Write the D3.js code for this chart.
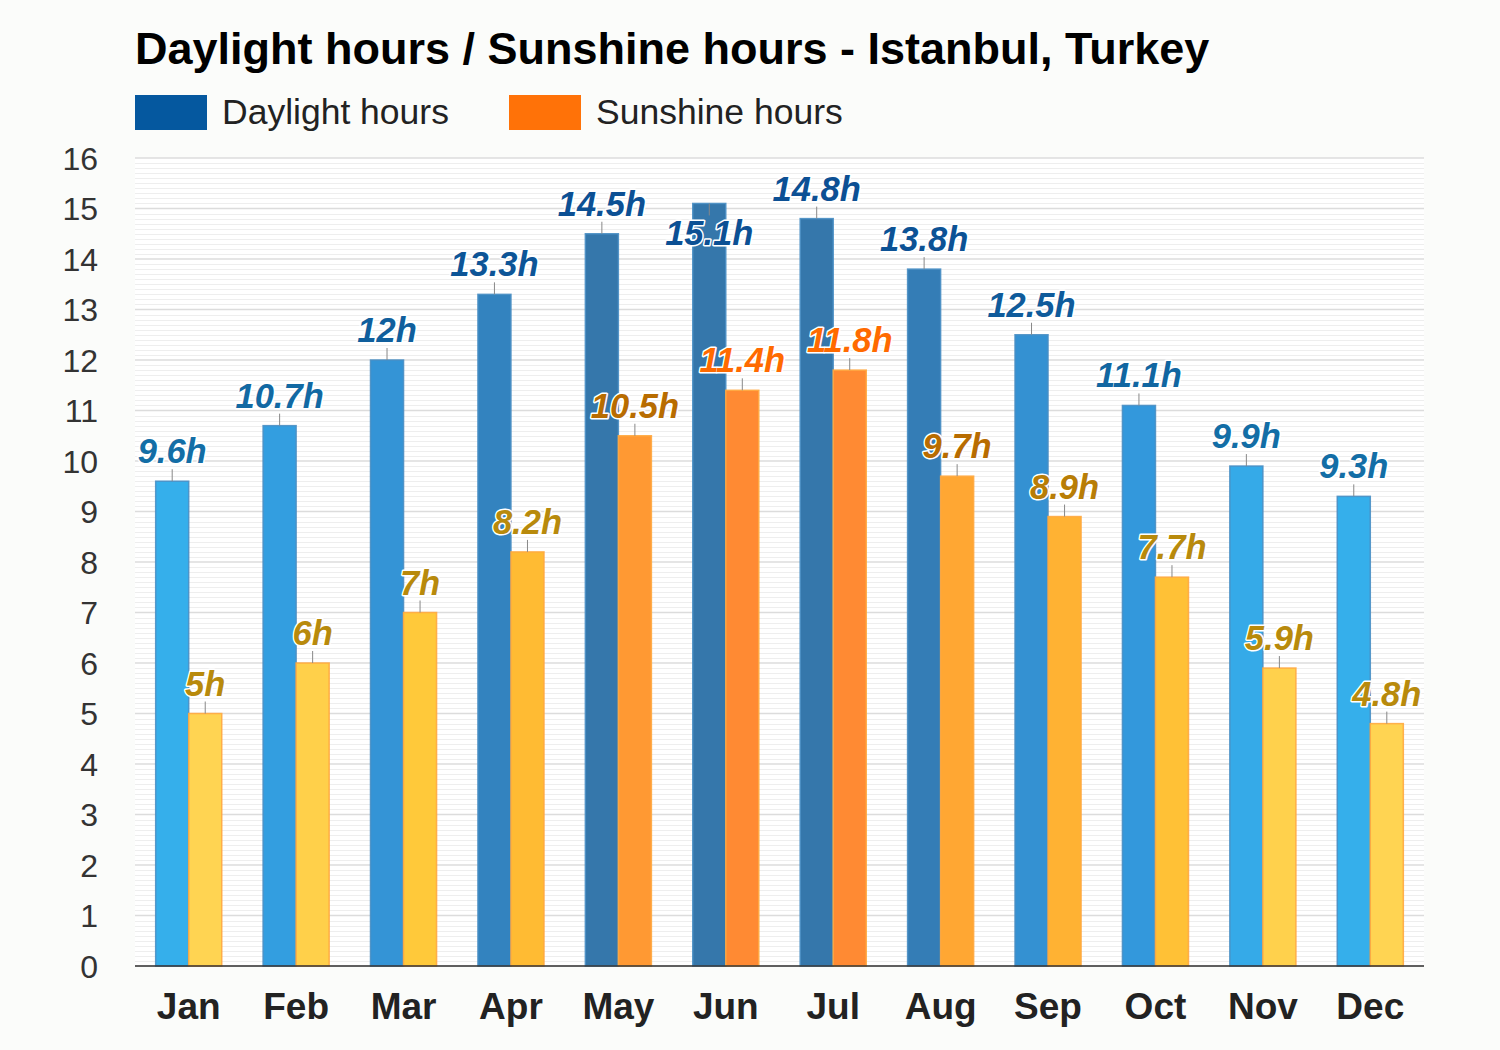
<!DOCTYPE html>
<html><head><meta charset="utf-8">
<script src="https://cdn.jsdelivr.net/npm/d3@7"></script>
<style>body{margin:0;background:#fbfcfa;}svg{display:block;font-family:"Liberation Sans",Arial,sans-serif;}</style>
</head><body><svg id="c" width="1500" height="1050"></svg>
<script>
const months = ["Jan","Feb","Mar","Apr","May","Jun","Jul","Aug","Sep","Oct","Nov","Dec"];
const daylight = [9.6,10.7,12,13.3,14.5,15.1,14.8,13.8,12.5,11.1,9.9,9.3];
const sunshine = [5,6,7,8.2,10.5,11.4,11.8,9.7,8.9,7.7,5.9,4.8];
const seriesNames = ["Daylight hours","Sunshine hours"];
const yTicks = d3.range(0,17,1);

const svg = d3.select("#c");
const L=135,R=1424,T=158,B=966;
const x0 = d3.scaleBand().domain(months).range([L,R]).paddingInner(0.385).paddingOuter(0.1925);
const x1 = d3.scaleBand().domain(seriesNames).range([0,x0.bandwidth()]);
const y = d3.scaleLinear().domain([0,16]).range([B,T]);

const dayFill = d3.scaleLinear().domain([9.6,11,12.5,13.5,14.5]).range(["#35afeb","#3399dd","#3491d2","#337fba","#3577ab"]).clamp(true);
const sunFill = d3.scaleLinear().domain([5.5,7,8.2,9.7,11.4]).range(["#ffd452","#ffc93a","#ffbb33","#ffa733","#ff8a33"]).clamp(true);
const dayLab = d3.scaleLinear().domain([10,14]).range(["#136ea6","#0c5094"]).clamp(true);
function sunLab(v){ return v>=11 ? "#ff6a00" : (v>=9.5 ? "#b86c00" : (v>=8.5 ? "#b87d06" : "#b88a0c")); }

// title
svg.append("text").attr("x",135).attr("y",64).attr("font-size",45).attr("font-weight","bold").attr("fill","#000")
  .text("Daylight hours / Sunshine hours - Istanbul, Turkey");
// legend
const leg=[{n:seriesNames[0],c:"#05589f",x:135},{n:seriesNames[1],c:"#ff7208",x:509}];
leg.forEach(d=>{
  svg.append("rect").attr("x",d.x).attr("y",95).attr("width",72).attr("height",35).attr("fill",d.c);
  svg.append("text").attr("x",d.x+87).attr("y",124).attr("font-size",35.5).attr("fill","#222").text(d.n);
});

// plot bg
svg.append("rect").attr("x",L).attr("y",T).attr("width",R-L).attr("height",B-T).attr("fill","#ffffff");
// minor grid
const minor = d3.range(0,16.001,0.1).filter(v=>Math.abs(v-Math.round(v))>0.01);
svg.append("g").selectAll("line").data(minor).join("line")
  .attr("x1",L).attr("x2",R).attr("y1",d=>Math.round(y(d))+0.5).attr("y2",d=>Math.round(y(d))+0.5)
  .attr("stroke","#eeeeee").attr("stroke-width",1);
svg.append("g").selectAll("line").data(yTicks).join("line")
  .attr("x1",L).attr("x2",R).attr("y1",d=>y(d)).attr("y2",d=>y(d))
  .attr("stroke","#dcdcdc").attr("stroke-width",1.5);

// y axis labels
svg.append("g").selectAll("text").data(yTicks).join("text")
  .attr("x",98).attr("y",d=>y(d)).attr("dy","0.36em").attr("text-anchor","end")
  .attr("font-size",32).attr("fill","#333").text(d=>d);

// bars
const data = months.map((m,i)=>({m, vals:[{s:seriesNames[0],v:daylight[i]},{s:seriesNames[1],v:sunshine[i]}]}));
const g = svg.append("g").selectAll("g").data(data).join("g").attr("transform",d=>`translate(${x0(d.m)},0)`);
g.selectAll("rect").data(d=>d.vals).join("rect")
  .attr("x",d=>x1(d.s)).attr("width",x1.bandwidth()).attr("y",d=>y(d.v)).attr("height",d=>B-y(d.v))
  .attr("fill",d=>d.s===seriesNames[0]?dayFill(d.v):sunFill(d.v))
  .attr("stroke",d=>d.s===seriesNames[0]?"#4a8fc4":"#ffa940").attr("stroke-width",1.5).attr("stroke-opacity",0.9);

// axis line
svg.append("line").attr("x1",L).attr("x2",R).attr("y1",B).attr("y2",B).attr("stroke","#333").attr("stroke-width",1.5);

// labels
const lab = svg.append("g");
data.forEach(d=>{
  d.vals.forEach(o=>{
    const cx = x0(d.m)+x1(o.s)+x1.bandwidth()/2;
    const top = y(o.v);
    const inside = top - 48 < T;
    let base, l1, l2;
    if(inside){ l1=top; l2=top+12; base=top+42; }
    else { l1=top; l2=top-12; base=top-18; }
    lab.append("line").attr("x1",cx).attr("x2",cx).attr("y1",l1).attr("y2",l2).attr("stroke","#888").attr("stroke-width",1);
    const t = (Math.round(o.v*10)/10)+"h";
    const col = o.s===seriesNames[0]?dayLab(o.v):sunLab(o.v);
    lab.append("text").attr("x",cx).attr("y",base).attr("text-anchor","middle").attr("font-size",34.5)
      .attr("font-weight","bold").attr("font-style","italic")
      .attr("fill",col).attr("stroke","#ffffff").attr("stroke-width",3).attr("paint-order","stroke").attr("stroke-linejoin","round").text(t);
  });
});

// x labels
svg.append("g").selectAll("text").data(months).join("text")
  .attr("x",d=>x0(d)+x0.bandwidth()/2).attr("y",1019).attr("text-anchor","middle")
  .attr("font-size",37).attr("font-weight","bold").attr("fill","#222").text(d=>d);
</script></body></html>
